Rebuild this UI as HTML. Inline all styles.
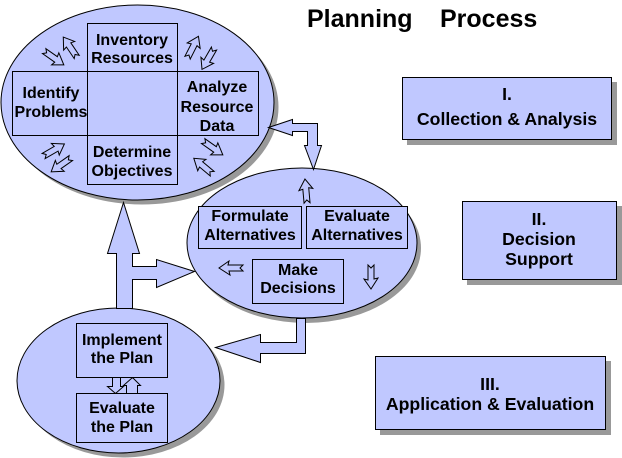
<!DOCTYPE html>
<html>
<head>
<meta charset="utf-8">
<style>
  html,body{margin:0;padding:0;background:#fff;}
  svg{display:block;}
  text{font-family:"Liberation Sans", Arial, sans-serif;font-weight:bold;fill:#000;}
</style>
</head>
<body>
<svg width="622" height="458" viewBox="0 0 622 458" xmlns="http://www.w3.org/2000/svg">
  <!-- Title -->
  <text x="307" y="27" font-size="25">Planning</text>
  <text x="440" y="27" font-size="25">Process</text>

  <!-- Right boxes -->
  <rect x="407" y="82" width="210" height="63" fill="#999"/>
  <rect x="402.5" y="77.5" width="209" height="62" fill="#C0C8FF" stroke="#000"/>
  <text x="507" y="100" font-size="17.7" text-anchor="middle">I.</text>
  <text x="507" y="125" font-size="17.7" text-anchor="middle">Collection &amp; Analysis</text>

  <rect x="467" y="206" width="155" height="79" fill="#999"/>
  <rect x="462.5" y="201.5" width="154" height="78" fill="#C0C8FF" stroke="#000"/>
  <text x="539" y="225" font-size="17.7" text-anchor="middle">II.</text>
  <text x="539" y="245" font-size="17.7" text-anchor="middle">Decision</text>
  <text x="539" y="265" font-size="17.7" text-anchor="middle">Support</text>

  <rect x="380" y="361" width="231" height="74" fill="#999"/>
  <rect x="375.5" y="356.5" width="230" height="73" fill="#C0C8FF" stroke="#000"/>
  <text x="490" y="390" font-size="17.7" text-anchor="middle">III.</text>
  <text x="490" y="410" font-size="17.7" text-anchor="middle">Application &amp; Evaluation</text>

  <!-- Top ellipse -->
  <ellipse cx="142" cy="107" rx="136.5" ry="97.5" fill="#999"/>
  <ellipse cx="137.5" cy="102.5" rx="136.5" ry="97.5" fill="#C0C8FF" stroke="#000"/>
  <rect x="87.5" y="23.5" width="90" height="48" fill="#C0C8FF" stroke="#000"/>
  <rect x="12.5" y="71.5" width="75" height="64" fill="#C0C8FF" stroke="#000"/>
  <rect x="177.5" y="71.5" width="81" height="64" fill="#C0C8FF" stroke="#000"/>
  <rect x="87.5" y="135.5" width="90" height="49" fill="#C0C8FF" stroke="#000"/>
  <text x="132" y="45" font-size="16" text-anchor="middle">Inventory</text>
  <text x="132" y="63" font-size="16" text-anchor="middle">Resources</text>
  <text x="51" y="98" font-size="16" text-anchor="middle">Identify</text>
  <text x="51" y="117" font-size="16" text-anchor="middle">Problems</text>
  <text x="217" y="92" font-size="16" text-anchor="middle">Analyze</text>
  <text x="217" y="112" font-size="16" text-anchor="middle">Resource</text>
  <text x="217" y="131" font-size="16" text-anchor="middle">Data</text>
  <text x="132" y="157" font-size="16" text-anchor="middle">Determine</text>
  <text x="132" y="176" font-size="16" text-anchor="middle">Objectives</text>

  <!-- small cycle arrows, top ellipse -->
  <g fill="#C0C8FF" stroke="#000" stroke-width="1">
    <polygon transform="translate(54,58) rotate(35)" points="-12,-3 2,-3 1,-7 12,0 2,7 3,3 -12,3 -9,0"/>
    <polygon transform="translate(70,47) rotate(-124)" points="-12,-3 2,-3 1,-7 12,0 2,7 3,3 -12,3 -9,0"/>
    <polygon transform="translate(193,47) rotate(-63)" points="-12,-3 2,-3 1,-7 12,0 2,7 3,3 -12,3 -9,0"/>
    <polygon transform="translate(208,59) rotate(120)" points="-12,-3 2,-3 1,-7 12,0 2,7 3,3 -12,3 -9,0"/>
    <polygon transform="translate(54,150) rotate(-30)" points="-12,-3 2,-3 1,-7 12,0 2,7 3,3 -12,3 -9,0"/>
    <polygon transform="translate(61,165) rotate(145)" points="-12,-3 2,-3 1,-7 12,0 2,7 3,3 -12,3 -9,0"/>
    <polygon transform="translate(213,148) rotate(35)" points="-12,-3 2,-3 1,-7 12,0 2,7 3,3 -12,3 -9,0"/>
    <polygon transform="translate(203,166) rotate(-140)" points="-12,-3 2,-3 1,-7 12,0 2,7 3,3 -12,3 -9,0"/>
  </g>

  <!-- Middle ellipse -->
  <ellipse cx="306" cy="248" rx="115" ry="75" fill="#999"/>
  <ellipse cx="302" cy="243" rx="115" ry="75" fill="#C0C8FF" stroke="#000"/>
  <rect x="198.5" y="206.5" width="103" height="42" fill="#C0C8FF" stroke="#000"/>
  <rect x="306.5" y="206.5" width="101" height="42" fill="#C0C8FF" stroke="#000"/>
  <rect x="252.5" y="259.5" width="91" height="44" fill="#C0C8FF" stroke="#000"/>
  <text x="250" y="221" font-size="16" text-anchor="middle">Formulate</text>
  <text x="250" y="240" font-size="16" text-anchor="middle">Alternatives</text>
  <text x="357" y="221" font-size="16" text-anchor="middle">Evaluate</text>
  <text x="357" y="240" font-size="16" text-anchor="middle">Alternatives</text>
  <text x="298" y="275" font-size="16" text-anchor="middle">Make</text>
  <text x="298" y="293" font-size="16" text-anchor="middle">Decisions</text>
  <g fill="#C0C8FF" stroke="#000" stroke-width="1">
    <polygon transform="translate(306,191) rotate(-95)" points="-12,-3 2,-3 1,-7 12,0 2,7 3,3 -12,3 -9,0"/>
    <polygon transform="translate(231,268) rotate(180)" points="-12,-3 2,-3 1,-7 12,0 2,7 3,3 -12,3 -9,0"/>
    <polygon transform="translate(371,277) rotate(90)" points="-12,-3 2,-3 1,-7 12,0 2,7 3,3 -12,3 -9,0"/>
  </g>

  <!-- Bottom ellipse -->
  <ellipse cx="123" cy="385" rx="101.5" ry="72.5" fill="#999"/>
  <ellipse cx="118.5" cy="380.5" rx="101.5" ry="72.5" fill="#C0C8FF" stroke="#000"/>
  <rect x="76.5" y="323.5" width="91" height="54" fill="#C0C8FF" stroke="#000"/>
  <rect x="76.5" y="393.5" width="91" height="49" fill="#C0C8FF" stroke="#000"/>
  <text x="122" y="345" font-size="16" text-anchor="middle">Implement</text>
  <text x="122" y="363" font-size="16" text-anchor="middle">the Plan</text>
  <text x="122" y="413" font-size="16" text-anchor="middle">Evaluate</text>
  <text x="122" y="432" font-size="16" text-anchor="middle">the Plan</text>
  <polygon points="112.5,377.5 120.5,377.5 120.5,386.5 123.5,386.5 115.5,393.5 107.5,386.5 112.5,386.5" fill="#C0C8FF" stroke="#000"/>
  <polygon points="132.5,377.5 140.5,385.5 137.5,385.5 137.5,393.5 126.5,393.5 126.5,385.5 123.5,385.5" fill="#C0C8FF" stroke="#000"/>

  <!-- Connectors -->
  <polygon points="268.5,127.5 292.5,119.5 292.5,123.5 317.5,123.5 317.5,145.5 321.5,145.5 313.5,169.5 304.5,145.5 307.5,145.5 307.5,131.5 292.5,131.5 292.5,135.5" fill="#C0C8FF" stroke="#000"/>
  <polygon points="123.5,202.5 139.5,253.5 132.5,253.5 132.5,266.5 156.5,266.5 156.5,259.5 194.5,271.5 156.5,287.5 156.5,279.5 132.5,279.5 132.5,308.5 116.5,308.5 116.5,253.5 107.5,253.5" fill="#C0C8FF" stroke="#000"/>
  <polygon points="215.5,347.5 260.5,334.5 260.5,342.5 296.5,342.5 296.5,318.5 305.5,318.5 305.5,353.5 260.5,353.5 260.5,362.5" fill="#C0C8FF" stroke="#000"/>
</svg>
</body>
</html>
